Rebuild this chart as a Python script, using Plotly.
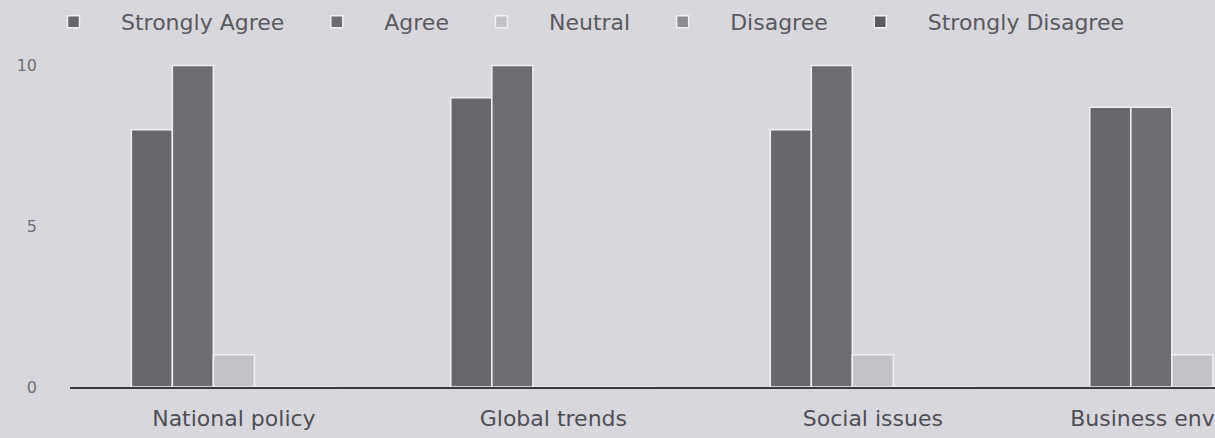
import plotly.graph_objects as go

categories = ["National policy", "Global trends", "Social issues", "Business environment"]
series_names = ["Strongly Agree", "Agree", "Neutral", "Disagree", "Strongly Disagree"]
strongly_agree = [8, 9, 8, 8.7]
agree = [10, 10, 10, 8.7]
neutral = [1, 0, 1, 1]
disagree = [0, 0, 0, 0]
strongly_disagree = [0, 0, 0, 0]
y_ticks = [0, 5, 10]

series_values = [strongly_agree, agree, neutral, disagree, strongly_disagree]
colors = ["#68676d", "#6e6d73", "#c3c2c8", "#8d8c92", "#5c5b61"]

FONT = "DejaVu Sans"
BG = "#d8d7de"

fig = go.Figure()
for name, vals, col in zip(series_names, series_values, colors):
    fig.add_trace(go.Bar(
        name=name, x=categories, y=vals,
        marker=dict(color=col, line=dict(color="#f1f0f4", width=1.5)),
    ))

fig.update_layout(
    width=1215, height=438,
    margin=dict(l=70, r=0, t=39, b=51),
    paper_bgcolor=BG, plot_bgcolor=BG,
    barmode="group", bargap=0.358, bargroupgap=0.0,
    font=dict(family=FONT, color="#4f4e55"),
    showlegend=True,
    legend=dict(
        orientation="h", xref="container", yref="container",
        x=26 / 1215, y=1 - 22 / 438, xanchor="left", yanchor="middle",
        font=dict(size=22, color="#5a5960"), itemwidth=85,
        bgcolor="rgba(0,0,0,0)",
    ),
    xaxis=dict(
        type="category", range=[-0.513, 3.071],
        showline=True, linecolor="#3a393f", linewidth=2,
        showgrid=False, zeroline=False, ticks="",
        tickfont=dict(size=22, color="#4f4e55"),
        ticklabelstandoff=11, automargin=False, ticklabeloverflow="allow",
    ),
    yaxis=dict(
        range=[0, 10.7], tickvals=y_ticks, ticktext=[str(v) for v in y_ticks],
        showgrid=False, zeroline=False, showline=False, ticks="",
        tickfont=dict(size=16, color="#706f75"),
        ticklabelstandoff=32, automargin=False,
    ),
)

fig.write_html(
    "out.html",
    config={"displayModeBar": False},
    post_script="document.body.style.margin='0';document.body.style.overflow='hidden';",
)
